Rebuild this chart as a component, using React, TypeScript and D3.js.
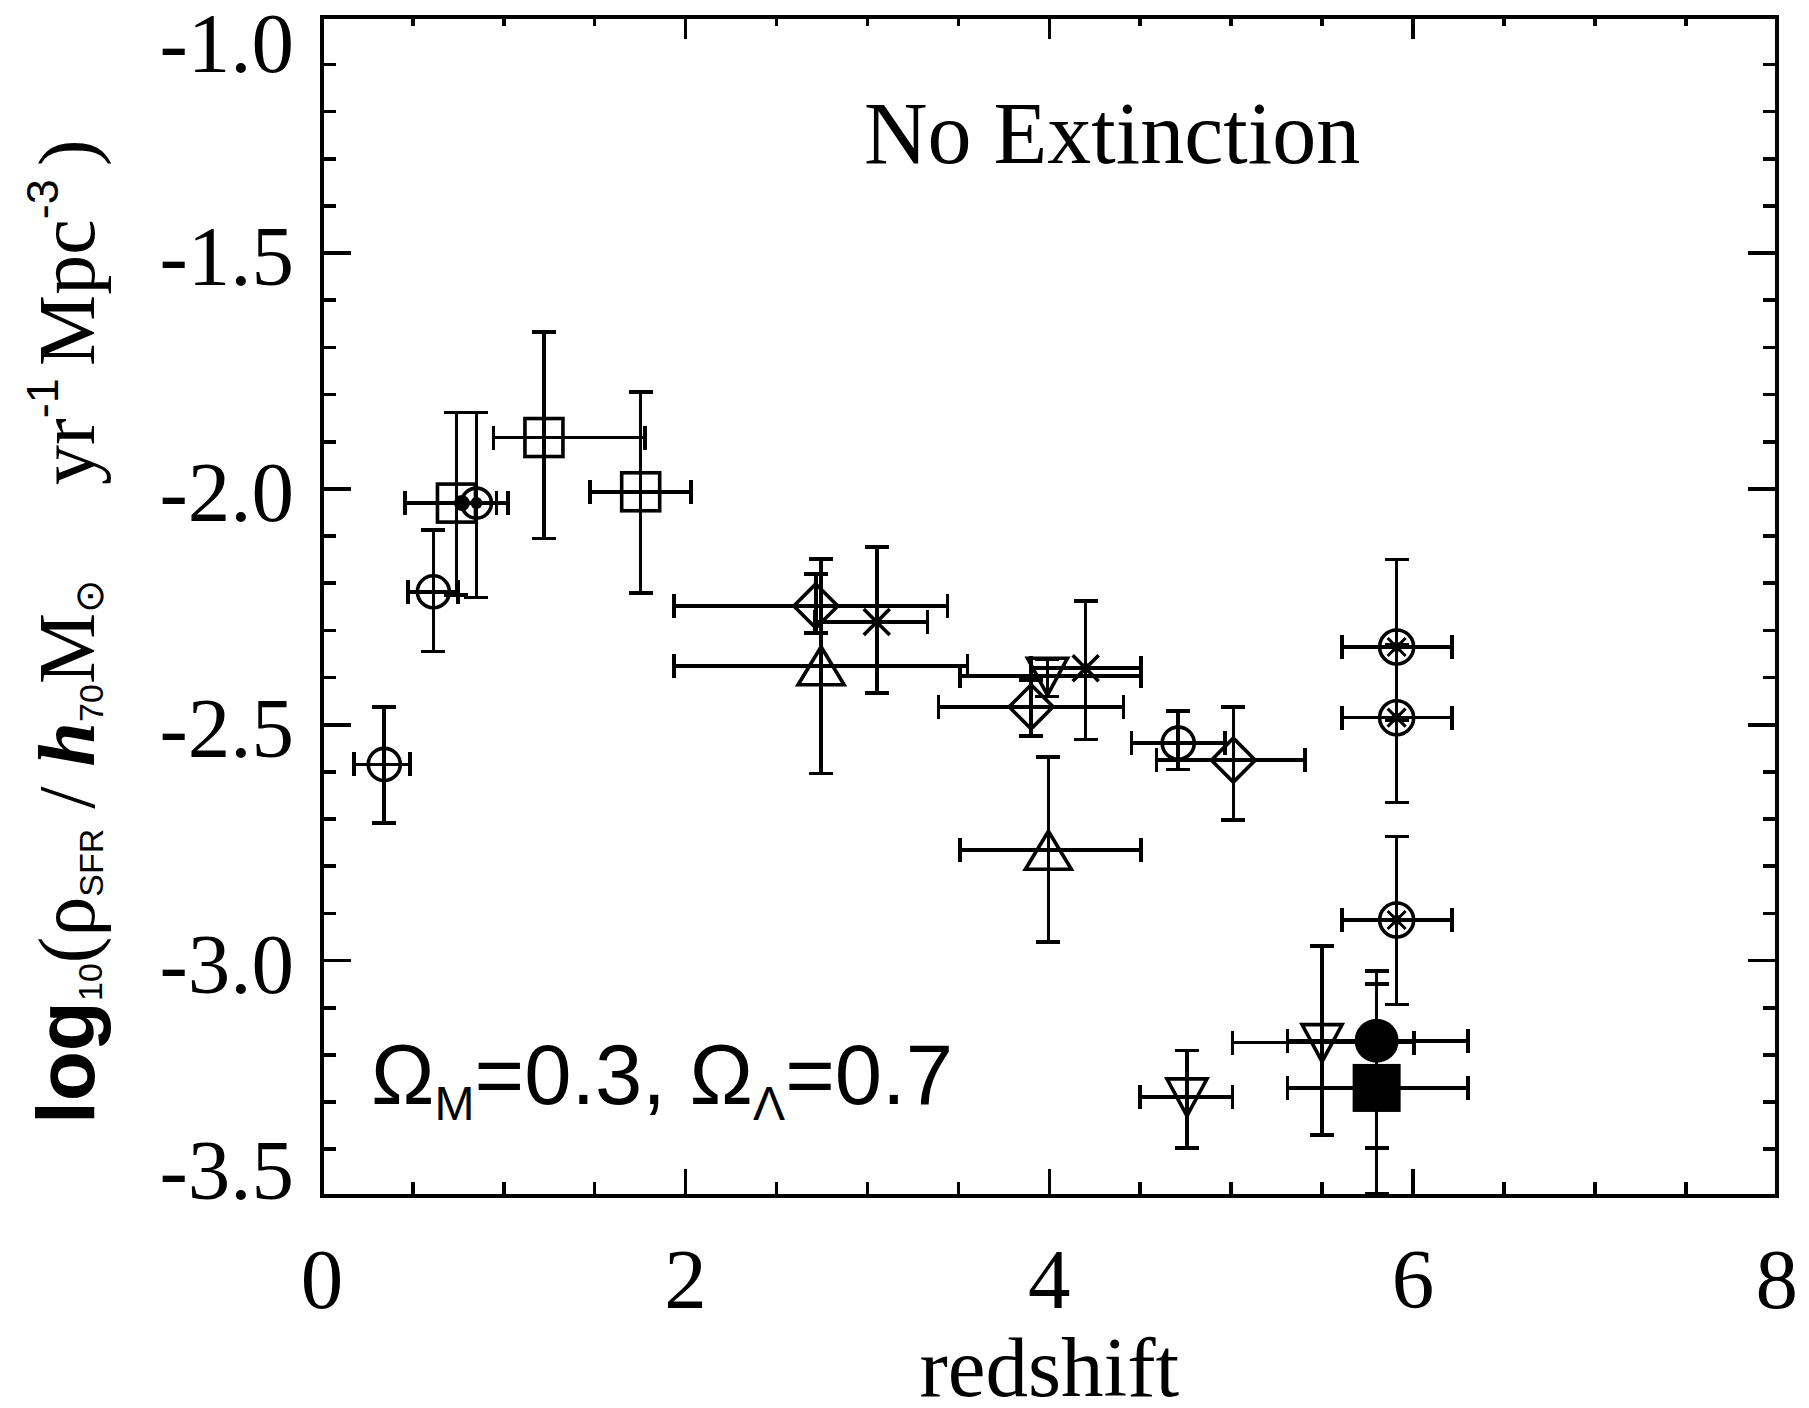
import React from 'react';
import * as d3 from 'd3';

const W = 1809;
const H = 1408;

const X_DOMAIN = [0, 8];
const Y_DOMAIN = [-3.5, -1.0];
const X_TICKS = [0, 2, 4, 6, 8];
const X_TICK_LABELS = ['0', '2', '4', '6', '8'];
const Y_TICKS = [-1.0, -1.5, -2.0, -2.5, -3.0, -3.5];
const Y_TICK_LABELS = ['-1.0', '-1.5', '-2.0', '-2.5', '-3.0', '-3.5'];

// each row: [x, y, xLow, xHigh, yTop, yBottom]
const openCircles = [
  [0.343, -2.584, 0.178, 0.485, -2.462, -2.708],
  [0.613, -2.218, 0.475, 0.75, -2.087, -2.345],
  [4.709, -2.539, 4.453, 4.966, -2.471, -2.595],
];
const openSquares = [
  [0.74, -2.03, 0.457, 1.025, -1.838, -2.225],
  [1.221, -1.891, 0.943, 1.777, -1.667, -2.105],
  [1.753, -2.006, 1.474, 2.03, -1.794, -2.22],
];
const dotCircles = [
  [0.85, -2.03, 0.74, 0.96, -1.838, -2.23],
];
const smallDots = [
  [0.77, -2.03],
];
const diamonds = [
  [2.716, -2.248, 1.936, 3.44, -2.18, -2.305],
  [3.9, -2.462, 3.39, 4.407, -2.405, -2.524],
  [5.012, -2.575, 4.59, 5.406, -2.462, -2.702],
];
const trianglesUp = [
  [2.745, -2.375, 1.936, 3.55, -2.149, -2.603],
  [3.995, -2.766, 3.509, 4.505, -2.568, -2.96],
];
const asterisks = [
  [3.051, -2.282, 2.71, 3.33, -2.123, -2.433],
  [4.2, -2.38, 3.9, 4.505, -2.238, -2.531],
];
const trianglesDown = [
  [3.99, -2.397, 3.509, 4.505, -2.36, -2.44],
  [4.757, -3.289, 4.499, 5.008, -3.191, -3.397],
  [5.5, -3.174, 5.008, 6.004, -2.969, -3.37],
];
const crossCircles = [
  [5.91, -2.335, 5.608, 6.213, -2.15, -2.49],
  [5.91, -2.485, 5.608, 6.213, -2.33, -2.665],
  [5.91, -2.914, 5.608, 6.213, -2.737, -3.093],
];
const filledCircles = [
  [5.8, -3.17, 5.31, 6.304, -3.022, -3.397],
];
const filledSquares = [
  [5.8, -3.27, 5.31, 6.304, -3.05, -3.495],
];

const LEFT = 321.9;
const RIGHT = 1776.7;
const TOP = 17.3;
const BOTTOM = 1196.4;
const SW = 3.6;
const CAP = 12;

const x = d3.scaleLinear().domain(X_DOMAIN).range([LEFT, RIGHT]);
const y = d3.scaleLinear().domain(Y_DOMAIN).range([BOTTOM, TOP]);

function ErrorBars({ d }: { d: number[] }) {
  const [cx, cy, xl, xh, yt, yb] = d;
  const px = x(cx), py = y(cy);
  const x1 = x(xl), x2 = x(xh), y1 = y(yt), y2 = y(yb);
  return (
    <g stroke="#000" strokeWidth={SW} fill="none" shapeRendering="crispEdges">
      <line x1={x1} y1={py} x2={x2} y2={py} />
      <line x1={x1} y1={py - CAP} x2={x1} y2={py + CAP} />
      <line x1={x2} y1={py - CAP} x2={x2} y2={py + CAP} />
      <line x1={px} y1={y1} x2={px} y2={y2} />
      <line x1={px - CAP} y1={y1} x2={px + CAP} y2={y1} />
      <line x1={px - CAP} y1={y2} x2={px + CAP} y2={y2} />
    </g>
  );
}

type Kind = 'circle' | 'square' | 'dotCircle' | 'diamond' | 'triUp' | 'triDown' | 'asterisk' | 'crossCircle' | 'fCircle' | 'fSquare';

function Marker({ kind, d }: { kind: Kind; d: number[] }) {
  const px = x(d[0]), py = y(d[1]);
  const common = { stroke: '#000', strokeWidth: SW, fill: 'none' };
  let el: React.ReactNode = null;
  switch (kind) {
    case 'circle':
      el = <circle r={16} {...common} />;
      break;
    case 'square':
      el = <rect x={-19} y={-19} width={38} height={38} {...common} />;
      break;
    case 'dotCircle':
      el = (
        <g>
          <circle r={15} {...common} />
          <circle r={6} fill="#000" />
        </g>
      );
      break;
    case 'diamond':
      el = <path d="M0,-22L22,0L0,22L-22,0Z" {...common} />;
      break;
    case 'triUp':
      el = <path d="M0,-19L23,19L-23,19Z" {...common} />;
      break;
    case 'triDown':
      el = <path d="M-20,-18L20,-18L0,19Z" {...common} />;
      break;
    case 'asterisk':
      el = (
        <g {...common}>
          <line x1={-13} y1={-13} x2={13} y2={13} />
          <line x1={-13} y1={13} x2={13} y2={-13} />
          <circle r={5} fill="#000" stroke="none" />
        </g>
      );
      break;
    case 'crossCircle':
      el = (
        <g>
          <circle r={17} {...common} />
          <line x1={-9} y1={-9} x2={9} y2={9} stroke="#000" strokeWidth={3} />
          <line x1={-9} y1={9} x2={9} y2={-9} stroke="#000" strokeWidth={3} />
          <circle r={5} fill="#000" />
        </g>
      );
      break;
    case 'fCircle':
      el = <circle r={22} fill="#000" />;
      break;
    case 'fSquare':
      el = <rect x={-24} y={-24} width={48} height={48} fill="#000" />;
      break;
  }
  return <g transform={`translate(${px},${py})`}>{el}</g>;
}

const SERIES: [Kind, number[][]][] = [
  ['circle', openCircles],
  ['square', openSquares],
  ['dotCircle', dotCircles],
  ['diamond', diamonds],
  ['triUp', trianglesUp],
  ['asterisk', asterisks],
  ['triDown', trianglesDown],
  ['crossCircle', crossCircles],
  ['fCircle', filledCircles],
  ['fSquare', filledSquares],
];

export default function App() {
  const xMinor = d3.range(0, 8.0001, 0.5).filter((v) => Math.abs(v / 2 - Math.round(v / 2)) > 1e-6);
  const yMinor = d3
    .range(-35, -9, 1)
    .map((v) => v / 10)
    .filter((v) => Math.abs(v * 2 - Math.round(v * 2)) > 1e-6);

  const serif = 'Liberation Serif, Times New Roman, serif';
  const sans = 'Liberation Sans, Arial, sans-serif';

  return (
    <div style={{ position: 'absolute', left: 0, top: 0 }}>
      <svg width={W} height={H} style={{ display: 'block', background: '#fff' }}>
        <rect x={0} y={0} width={W} height={H} fill="#fff" />
        {/* frame */}
        <rect x={LEFT} y={TOP} width={RIGHT - LEFT} height={BOTTOM - TOP} fill="none" stroke="#000" strokeWidth={4} shapeRendering="crispEdges" />
        {/* ticks */}
        <g stroke="#000" strokeWidth={3.6} shapeRendering="crispEdges">
          {X_TICKS.map((t) => (
            <g key={'xt' + t}>
              <line x1={x(t)} x2={x(t)} y1={BOTTOM} y2={BOTTOM - 27} />
              <line x1={x(t)} x2={x(t)} y1={TOP} y2={TOP + 22} />
            </g>
          ))}
          {xMinor.map((t) => (
            <g key={'xm' + t}>
              <line x1={x(t)} x2={x(t)} y1={BOTTOM} y2={BOTTOM - 14} />
              <line x1={x(t)} x2={x(t)} y1={TOP} y2={TOP + 9} />
            </g>
          ))}
          {Y_TICKS.map((t) => (
            <g key={'yt' + t}>
              <line x1={LEFT} x2={LEFT + 29} y1={y(t)} y2={y(t)} />
              <line x1={RIGHT} x2={RIGHT - 29} y1={y(t)} y2={y(t)} />
            </g>
          ))}
          {yMinor.map((t) => (
            <g key={'ym' + t}>
              <line x1={LEFT} x2={LEFT + 14} y1={y(t)} y2={y(t)} />
              <line x1={RIGHT} x2={RIGHT - 14} y1={y(t)} y2={y(t)} />
            </g>
          ))}
        </g>
        {/* tick labels */}
        <g fontFamily={serif} fontSize={85} fill="#000">
          {X_TICKS.map((t, i) => (
            <text key={'xl' + t} x={x(t)} y={1308} textAnchor="middle">
              {X_TICK_LABELS[i]}
            </text>
          ))}
          {Y_TICKS.map((t, i) => (
            <text key={'yl' + t} x={294} y={Math.min(Math.max(y(t) + 32, 72), 1199)} textAnchor="end">
              {Y_TICK_LABELS[i]}
            </text>
          ))}
        </g>
        {/* data */}
        {SERIES.map(([kind, rows]) =>
          rows.map((d, i) => <ErrorBars key={kind + 'e' + i} d={d} />)
        )}
        {SERIES.map(([kind, rows]) =>
          rows.map((d, i) => <Marker key={kind + 'm' + i} kind={kind} d={d} />)
        )}
        {smallDots.map((d, i) => (
          <circle key={'sd' + i} cx={x(d[0])} cy={y(d[1])} r={8} fill="#000" />
        ))}
        {/* annotations */}
        <text x={864} y={163} fontFamily={serif} fontSize={88} fill="#000">
          No Extinction
        </text>
        <text x={371} y={1104} fontFamily={sans} fontSize={85} fill="#000">
          Ω
          <tspan fontSize={48} dy={16}>M</tspan>
          <tspan dy={-16}>=0.3, Ω</tspan>
          <tspan fontSize={48} dy={16}>Λ</tspan>
          <tspan dy={-16}>=0.7</tspan>
        </text>
        {/* axis titles */}
        <text x={(LEFT + RIGHT) / 2} y={1396} textAnchor="middle" fontFamily={serif} fontSize={85} fill="#000">
          redshift
        </text>
        <text transform="rotate(-90)" fontFamily={serif} fontSize={80} fill="#000">
          <tspan x={-1124} y={94} fontFamily={sans} fontWeight="bold" fontSize={82}>log</tspan>
          <tspan fontFamily={sans} fontSize={34} dy={8}>10</tspan>
          <tspan dy={-8}>(ρ</tspan>
          <tspan fontFamily={sans} fontSize={34} dy={9}>SFR</tspan>
          <tspan dy={-9}> / </tspan>
          <tspan fontStyle="italic" fontWeight="bold">h</tspan>
          <tspan fontFamily={sans} fontSize={34} dy={9}>70</tspan>
          <tspan dy={-9}>M</tspan>
          <tspan fontSize={40} dy={9}>⊙</tspan>
          <tspan x={-485} y={94}>yr</tspan>
          <tspan fontFamily={sans} fontSize={45} dy={-36}>-1</tspan>
          <tspan x={-366} y={94}>Mpc</tspan>
          <tspan fontFamily={sans} fontSize={45} dy={-36}>-3</tspan>
          <tspan x={-166} y={94}>)</tspan>
        </text>
      </svg>
    </div>
  );
}
